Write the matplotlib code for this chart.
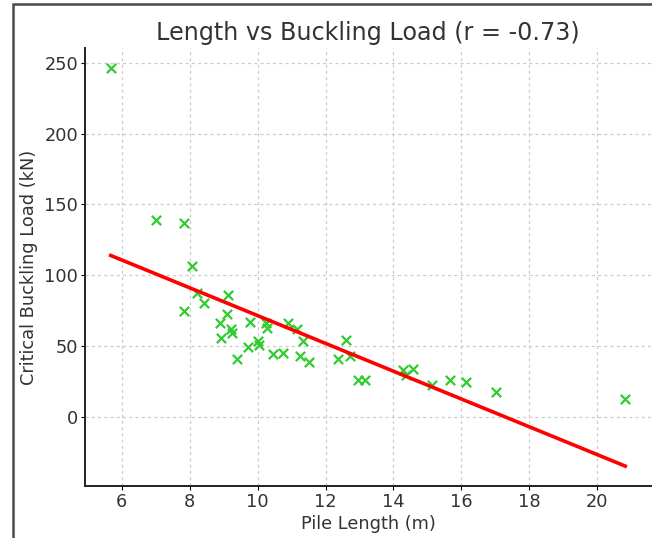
import numpy as np
import matplotlib
matplotlib.use("Agg")
import matplotlib.pyplot as plt
from matplotlib.patches import Rectangle

# Pile length (m) and critical buckling load (kN)
pile_length = [5.68, 7.00, 7.83, 8.06, 7.84, 8.23, 8.43, 9.12, 9.11, 8.89,
               9.22, 9.26, 8.91, 9.78, 10.25, 10.29, 10.02, 10.03, 9.73, 9.40,
               10.46, 10.74, 10.89, 11.17, 11.33, 11.26, 11.50, 12.38, 12.61, 12.73,
               12.95, 13.17, 14.28, 14.38, 14.58, 15.14, 15.65, 16.14, 17.02, 20.82]
buckling_load = [246.5, 138.8, 136.7, 106.2, 74.6, 87.1, 80.0, 85.9, 72.7, 66.3,
                 61.6, 58.8, 55.7, 66.6, 65.9, 62.8, 53.3, 50.8, 49.5, 41.0,
                 44.6, 45.0, 66.3, 61.6, 53.3, 42.9, 38.6, 40.4, 54.3, 43.2,
                 26.0, 26.0, 32.8, 29.2, 33.7, 22.7, 26.2, 24.3, 17.5, 12.7]
corr_label = "-0.73"

x = np.array(pile_length)
y = np.array(buckling_load)
slope, intercept = np.polyfit(x, y, 1)
x_fit = np.array([x.min(), x.max()])
y_fit = slope * x_fit + intercept

W, H = 652, 538
fig = plt.figure(figsize=(W / 100, H / 100), dpi=100)
ax = fig.add_axes([85 / W, (H - 486) / H, (651 - 85) / W, (486 - 48) / H])

text_color = "#333333"
ax.scatter(x, y, marker="x", color="#2ecc2e", s=45, linewidths=1.6, zorder=3)
ax.plot(x_fit, y_fit, color="red", lw=2.6, zorder=4)

ax.set_title(f"Length vs Buckling Load (r = {corr_label})", fontsize=17.2,
             color=text_color, pad=6)
ax.set_xlabel("Pile Length (m)", fontsize=12.8, color=text_color, labelpad=3)
ax.set_ylabel("Critical Buckling Load (kN)", fontsize=12.8, color=text_color,
              labelpad=5)

ax.set_xticks([6, 8, 10, 12, 14, 16, 18, 20])
ax.set_yticks([0, 50, 100, 150, 200, 250])
ax.tick_params(labelsize=12.8, labelcolor=text_color, length=3, pad=1.8)
ax.grid(True, linestyle=(0, (2.5, 2.5)), color="#cccccc", linewidth=0.9)
ax.set_axisbelow(True)
for side in ("top", "right"):
    ax.spines[side].set_visible(False)
for side in ("left", "bottom"):
    ax.spines[side].set_linewidth(1.4)
    ax.spines[side].set_color("#222222")

# Surrounding frame
fig.patches.append(Rectangle((13 / W, -0.1), 1.2, (H - 4) / H + 0.1,
                             transform=fig.transFigure, fill=False,
                             edgecolor="#4a4a4a", lw=1.8, zorder=0))

fig.savefig("out.png", dpi=100)
